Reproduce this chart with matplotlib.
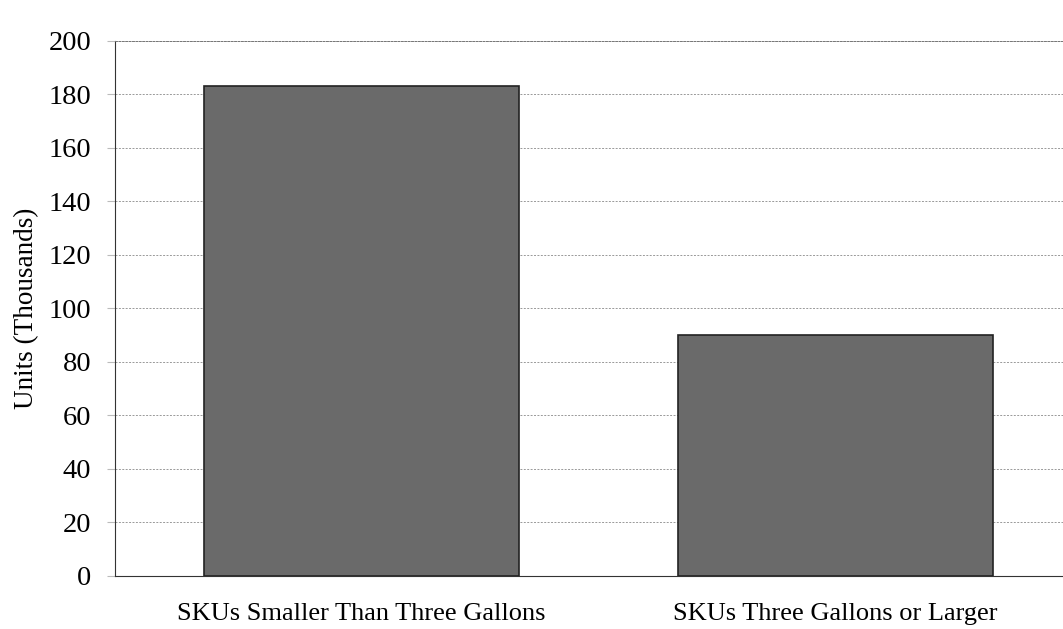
import matplotlib
matplotlib.use('Agg')
import matplotlib.pyplot as plt

categories = ['SKUs Smaller Than Three Gallons', 'SKUs Three Gallons or Larger']
units = [183, 90]
yticks = [0, 20, 40, 60, 80, 100, 120, 140, 160, 180, 200]

plt.rcParams['font.family'] = ['Liberation Serif', 'DejaVu Serif']

fig = plt.figure(figsize=(10.63, 6.29), dpi=100)
ax = fig.add_axes([0.108, 0.085, 0.892, 0.85])

ax.bar(range(len(categories)), units, width=0.665, color='#6a6a6a',
       edgecolor='#222222', linewidth=1.2, zorder=3)

ax.set_ylim(0, 200)
ax.set_xlim(-0.52, 1.48)
ax.set_yticks(yticks)
ax.set_xticks(range(len(categories)))
ax.set_xticklabels(categories, fontsize=19)
ax.tick_params(axis='y', labelsize=20.5, length=6, color='#bbbbbb', pad=11)
ax.tick_params(axis='x', length=0, pad=20)

ax.grid(axis='y', color='#999999', linestyle=(0, (2, 1.5)), linewidth=0.7, zorder=0)
ax.spines['right'].set_visible(False)
ax.spines['top'].set_linestyle((0, (2, 1.5)))
ax.spines['top'].set_color('#777777')
ax.spines['top'].set_linewidth(0.7)
ax.spines['left'].set_color('#333333')
ax.spines['bottom'].set_color('#333333')

ax.set_ylabel('Units (Thousands)', fontsize=19.5)
ax.yaxis.set_label_coords(-0.08, 0.5)

fig.savefig('out.png', dpi=100)
